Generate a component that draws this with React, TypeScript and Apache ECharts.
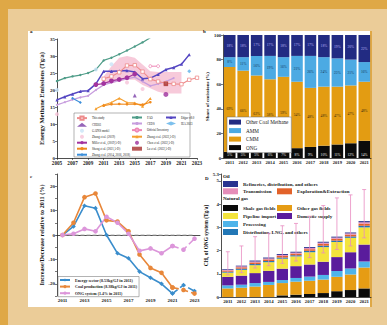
import React, { useEffect, useRef } from "react";
import * as echarts from "echarts";

const FONT = '"Liberation Serif", "DejaVu Serif", serif';

// ---------- Panel A ----------
const studyYears = [2011, 2012, 2013, 2014, 2015, 2016, 2017, 2018, 2019, 2020, 2021, 2022, 2023];
const studyValues = [23.3, 24.0, 25.2, 27.2, 27.3, 25.4, 23.2, 22.5, 22.0, 21.8, 21.7, 23.0, 23.6];
const bandYears = [2011, 2012, 2013, 2014, 2015, 2016, 2017, 2018, 2019, 2020, 2021];
const bandLow = [22.0, 22.0, 22.5, 23.0, 23.0, 21.5, 20.5, 19.5, 19.0, 19.0, 19.0];
const bandHigh = [24.0, 27.0, 29.5, 30.0, 29.5, 27.5, 25.5, 25.3, 25.3, 25.3, 25.3];
const faoYears = [2005, 2006, 2007, 2008, 2009, 2010, 2011, 2012, 2013, 2014, 2015, 2016, 2017];
const faoValues = [22.6, 23.5, 24.0, 24.4, 25.0, 26.0, 28.7, 29.5, 30.5, 31.6, 32.8, 34.0, 35.4];
const edgarYears = [2005, 2006, 2007, 2008, 2009, 2010, 2011, 2012, 2013, 2014, 2015, 2016, 2017, 2018, 2019, 2020, 2021, 2022];
const edgarValues = [17.1, 18.0, 18.8, 19.6, 19.8, 21.8, 25.5, 25.5, 25.6, 25.7, 25.3, 23.3, 23.5, 24.6, 26.0, 26.6, 27.6, 30.4];
const cedsYears = [2005, 2006, 2007, 2008, 2009, 2010, 2011, 2012, 2013, 2014, 2015, 2016, 2017, 2018, 2019, 2020];
const cedsValues = [15.6, 16.4, 17.2, 17.8, 18.3, 20.0, 21.5, 22.2, 22.8, 23.3, 23.8, 22.5, 21.2, 21.8, 22.5, 23.5];
const millerYears = [2010, 2011, 2012, 2013, 2014, 2015];
const millerValues = [21.6, 21.9, 22.7, 23.1, 23.6, 24.7];
const zhang22Years = [2010, 2011, 2012, 2013, 2014, 2015, 2016, 2017];
const zhang22Values = [14.5, 15.6, 16.3, 17.6, 16.3, 16.2, 15.2, 17.5];
const shengYears = [2011, 2012, 2013, 2014, 2015, 2016, 2017];
const shengValues = [15.4, 15.8, 15.9, 15.8, 15.9, 15.7, 16.4];
const zhang14Years = [2007, 2008];
const zhang14Values = [17.6, 16.3];
const gainsYears = [2005, 2010, 2012];
const gainsValues = [20.0, 26.0, 27.6];
const cheYears = [2015];
const cheValues = [18.4];
const zhang19Years = [2005, 2014, 2016];
const zhang19Values = [12.9, 22.2, 20.3];
const officialYears = [2017, 2018];
const officialValues = [27.0, 27.0];
const chenYears = [2019];
const chenValues = [18.7];
const luYears = [2019];
const luValues = [21.8];
const ieaYears = [2022];
const ieaValues = [25.5];

// ---------- Panel B ----------
const yearsB = ["2011", "2012", "2013", "2014", "2015", "2016", "2017", "2018", "2019", "2020", "2021"];
const ongShare = [5, 5, 5, 6, 7, 8, 9, 10, 11, 12, 14];
const cmmShare = [69, 66, 62, 58, 59, 54, 48, 48, 47, 47, 48];
const ammShare = [8, 11, 16, 19, 16, 21, 26, 24, 23, 21, 16];
const otherShare = [18, 18, 17, 17, 18, 17, 17, 18, 19, 20, 22];

// ---------- Panel C ----------
const yearsC = ["2011", "2012", "2013", "2014", "2015", "2016", "2017", "2018", "2019", "2020", "2021", "2022", "2023"];
const energyChange = [0, 3.5, 12, 11, 0, -7.5, -9.5, -15, -17.5, -20, -24, -20.5, -23];
const coalChange = [0, 5, 15.5, 17, 6, 5.5, 1.5, -8, -13.5, -15.5, -21.5, -22.5, -24];
const ongChange = [0, 0.5, 2.5, 1.5, 7.5, 5, 0.5, -6.5, -5.5, -7.5, -4.5, -6, -1.5];
const zeroRef = [0];
const lastSolidIndex = 10;

// ---------- Panel D ----------
const yearsD = ["2011", "2012", "2013", "2014", "2015", "2016", "2017", "2018", "2019", "2020", "2021"];
const shaleGas = [0, 0, 0, 0, 0.07, 0.1, 0.13, 0.17, 0.25, 0.3, 0.37];
const otherGas = [0.37, 0.4, 0.45, 0.52, 0.53, 0.56, 0.57, 0.58, 0.62, 0.67, 0.9];
const processing = [0.13, 0.13, 0.15, 0.13, 0.13, 0.16, 0.18, 0.2, 0.25, 0.26, 0.26];
const domesticSupply = [0.37, 0.39, 0.43, 0.48, 0.49, 0.51, 0.52, 0.57, 0.6, 0.7, 0.73];
const pipelineImport = [0.18, 0.25, 0.34, 0.37, 0.43, 0.42, 0.53, 0.63, 0.65, 0.62, 0.74];
const distributionLng = [0.04, 0.05, 0.05, 0.05, 0.05, 0.05, 0.06, 0.06, 0.06, 0.06, 0.07];
const exploration = [0.05, 0.06, 0.07, 0.07, 0.07, 0.07, 0.07, 0.08, 0.08, 0.08, 0.09];
const transmission = [0.03, 0.04, 0.04, 0.04, 0.04, 0.04, 0.05, 0.05, 0.05, 0.05, 0.06];
const refineries = [0.03, 0.03, 0.04, 0.04, 0.04, 0.04, 0.04, 0.04, 0.04, 0.04, 0.05];
const errLow = [0.95, 1.05, 1.25, 1.35, 1.45, 1.55, 1.7, 1.9, 2.05, 2.2, 2.55];
const errHigh = [1.95, 2.2, 2.6, 2.75, 3.07, 3.17, 3.48, 3.94, 4.27, 4.4, 4.63];

const zip = (xs: number[], ys: number[]) => xs.map((x, i) => [x, ys[i]]);

const axisLine = { lineStyle: { color: "#222", width: 0.8 } };
const axisTick = { length: 2, lineStyle: { color: "#222", width: 0.6 } };
const lbl = (fs: number) => ({ fontSize: fs, fontFamily: FONT, fontWeight: "bold" as const, color: "#222", margin: 2 });
const nameStyle = (fs: number) => ({ fontSize: fs, fontFamily: FONT, fontWeight: "bold" as const, color: "#111" });

function lineA(name: string, xs: number[], ys: number[], color: string, symbol: string, size: number, width: number, extra: any = {}) {
  return {
    name, type: "line", xAxisIndex: 0, yAxisIndex: 0, data: zip(xs, ys),
    symbol, symbolSize: size, color,
    lineStyle: { color, width }, itemStyle: { color },
    z: 3, ...extra,
  };
}
function scatterA(name: string, xs: number[], ys: number[], color: string, symbol: string, size: number) {
  return { name, type: "scatter", xAxisIndex: 0, yAxisIndex: 0, data: zip(xs, ys), symbol, symbolSize: size, color, itemStyle: { color }, z: 4 };
}

function barB(name: string, data: number[], color: string, labelColor: string, pos: string) {
  return {
    name, type: "bar", stack: "share", xAxisIndex: 1, yAxisIndex: 1, data, color,
    barCategoryGap: "14%", itemStyle: { color },
    label: { show: true, position: pos, formatter: "{c}%", fontSize: 3.6, fontFamily: FONT, color: labelColor, distance: 1 },
  };
}

function lineC(name: string, values: number[], color: string, symbol: string, dashed: boolean) {
  const data = values.map((v, i) => (dashed ? (i >= lastSolidIndex ? v : null) : i <= lastSolidIndex ? v : null));
  return {
    name, type: "line", xAxisIndex: 2, yAxisIndex: 2, data, symbol, symbolSize: 4.6, color,
    lineStyle: { color, width: 1.6, type: dashed ? "dashed" : "solid" }, itemStyle: { color },
    connectNulls: false, z: 3,
  };
}

function barD(name: string, data: number[], color: string) {
  return { name, type: "bar", stack: "ong", xAxisIndex: 3, yAxisIndex: 3, data, color, itemStyle: { color }, barCategoryGap: "17%" };
}

const legendText = (fs: number, bold = false) => ({ fontSize: fs, fontFamily: FONT, color: "#222", fontWeight: bold ? ("bold" as const) : ("normal" as const), lineHeight: fs + 1 });

const option: any = {
  animation: false,
  grid: [
    { left: 57, top: 39, width: 140, height: 119 },
    { left: 223, top: 35, width: 148, height: 123 },
    { left: 57, top: 174, width: 143, height: 122 },
    { left: 221, top: 174, width: 150, height: 123 },
  ],
  xAxis: [
    { gridIndex: 0, type: "value", min: 2005, max: 2023, interval: 2, axisLine, axisTick, splitLine: { show: false }, axisLabel: { ...lbl(5.2), formatter: (v: number) => String(v) } },
    { gridIndex: 1, type: "category", data: yearsB, axisLine, axisTick: { ...axisTick, alignWithLabel: true }, axisLabel: { ...lbl(4.6), interval: 0 } },
    { gridIndex: 2, type: "category", data: yearsC, axisLine, axisTick: { ...axisTick, alignWithLabel: true }, axisLabel: { ...lbl(5), interval: 1 } },
    { gridIndex: 3, type: "category", data: yearsD, axisLine, axisTick: { ...axisTick, alignWithLabel: true }, axisLabel: { ...lbl(4.8), interval: 0 } },
  ],
  yAxis: [
    { gridIndex: 0, type: "value", min: 0, max: 35, interval: 5, axisLine: { show: true, ...axisLine }, axisTick: { show: true, ...axisTick }, splitLine: { show: false }, axisLabel: lbl(5),
      name: "Energy Methane Emissions (Tg/a)", nameLocation: "middle", nameGap: 13, nameTextStyle: nameStyle(6.4) },
    { gridIndex: 1, type: "value", min: 0, max: 100, interval: 20, axisLine: { show: true, ...axisLine }, axisTick: { show: true, ...axisTick }, splitLine: { show: false }, axisLabel: lbl(4.6),
      name: "Share of emissions (%)", nameLocation: "middle", nameGap: 13, nameTextStyle: nameStyle(5) },
    { gridIndex: 2, type: "value", min: -25, max: 25, interval: 5, axisLine: { show: true, ...axisLine }, axisTick: { show: true, ...axisTick }, splitLine: { show: false },
      axisLabel: { ...lbl(5), formatter: (v: number) => (v % 10 === 0 ? String(v) : "") },
      name: "Increase/Decrease relative to 2011 (%)", nameLocation: "middle", nameGap: 12, nameTextStyle: nameStyle(6.2) },
    { gridIndex: 3, type: "value", min: 0, max: 5.3, interval: 1, axisLine: { show: true, ...axisLine }, axisTick: { show: true, ...axisTick }, splitLine: { show: false }, axisLabel: lbl(5),
      name: "CH\u2084 of ONG system (Tg/a)", nameLocation: "middle", nameGap: 8, nameTextStyle: nameStyle(5.4) },
  ],
  legend: [
    { orient: "vertical", left: 76, top: 115.5, padding: 0, itemWidth: 10, itemHeight: 4, itemGap: 2, textStyle: legendText(3), z: 6,
      data: ["This study", "CHE03", "GAINS model", "Zhang et al. (2019)", "Miller et al., (2019,5-D)", "Sheng et al. (2021,5-D)", "Zhang et al. (2014, 2016, 2018)"] },
    { orient: "vertical", left: 131, top: 115.5, padding: 0, itemWidth: 10, itemHeight: 4, itemGap: 2, textStyle: legendText(3), z: 6,
      data: ["FAO", "CEDS", "Official Inventory", "Zhang et al. (2022,5-D)", "Chen et al. (2022,5-D)", "Lu et al. (2022,5-D)"] },
    { orient: "vertical", left: 165, top: 115.5, padding: 0, itemWidth: 10, itemHeight: 4, itemGap: 2, textStyle: legendText(3), z: 6,
      data: ["Edgar v8.0", "IEA 2023"] },
    { orient: "vertical", left: 227, top: 117, padding: [2, 3, 2, 2], itemWidth: 12, itemHeight: 5, itemGap: 2.3, icon: "rect",
      backgroundColor: "#fff", borderColor: "#666", borderWidth: 0.5, textStyle: legendText(5.2), z: 6,
      data: ["Other Coal Methane", "AMM", "CMM", "ONG"] },
    { orient: "vertical", left: 58, top: 276.5, padding: [1, 2, 1, 1], itemWidth: 10, itemHeight: 4, itemGap: 1.6,
      backgroundColor: "#fff", borderColor: "#666", borderWidth: 0.5, textStyle: legendText(4, true), z: 6,
      data: ["Energy sector (8.53kg/GJ in 2011)", "Coal production (8.38kg/GJ in 2011)", "ONG system (1.4% in 2011)"] },
    { orient: "vertical", left: 223, top: 181, padding: 0, itemWidth: 15, itemHeight: 6, itemGap: 1.3, icon: "rect", textStyle: legendText(5, true),
      data: ["Refineries, distribution, and others", "Transmission"] },
    { orient: "vertical", left: 277, top: 188.3, padding: 0, itemWidth: 15, itemHeight: 6, itemGap: 1.3, icon: "rect", textStyle: legendText(5, true),
      data: ["Exploration&Extraction"] },
    { orient: "vertical", left: 223, top: 205, padding: 0, itemWidth: 15, itemHeight: 6, itemGap: 2, icon: "rect", textStyle: legendText(5, true),
      data: ["Shale gas fields", "Pipeline import", "Processing", "Distribution, LNG, and others"] },
    { orient: "vertical", left: 277, top: 205, padding: 0, itemWidth: 15, itemHeight: 6, itemGap: 2, icon: "rect", textStyle: legendText(5, true),
      data: ["Other gas fields", "Domestic supply"] },
  ],
  graphic: [
    { type: "rect", z: 1, shape: { x: 74, y: 113, width: 116, height: 44 }, style: { fill: "#fff", stroke: "#666", lineWidth: 0.5 } },
    { type: "text", x: 30, y: 29, style: { text: "a", font: `bold 5px ${FONT}`, fill: "#111" } },
    { type: "text", x: 203, y: 29, style: { text: "b", font: `bold 5px ${FONT}`, fill: "#111" } },
    { type: "text", x: 30, y: 174, style: { text: "c", font: `bold 5px ${FONT}`, fill: "#111" } },
    { type: "text", x: 205, y: 176, style: { text: "D", font: `bold 5px ${FONT}`, fill: "#111" } },
    { type: "text", x: 223, y: 174, style: { text: "Oil", font: `bold 5px ${FONT}`, fill: "#111" } },
    { type: "text", x: 223, y: 195.5, style: { text: "Natural gas", font: `bold 5px ${FONT}`, fill: "#111" } },
  ],
  series: [
    // Panel A: uncertainty band of this study (polygon built through the axis scales)
    {
      name: "studyBand", type: "custom", xAxisIndex: 0, yAxisIndex: 0, z: 1, silent: true,
      data: bandYears.map((y, i) => [y, bandLow[i], bandHigh[i]]),
      encode: { x: 0, y: [1, 2] },
      renderItem: (params: any, api: any) => {
        if (params.dataIndex !== 0) return null;
        const upper = bandYears.map((y, i) => api.coord([y, bandHigh[i]]));
        const lower = bandYears.map((y, i) => api.coord([y, bandLow[i]])).reverse();
        return { type: "polygon", shape: { points: upper.concat(lower) }, style: { fill: "#F4B8CD", opacity: 0.75 } };
      },
    },
    lineA("FAO", faoYears, faoValues, "#4E9C88", "circle", 2.4, 1.2),
    lineA("CEDS", cedsYears, cedsValues, "#C79DDE", "circle", 2, 1.3),
    lineA("Edgar v8.0", edgarYears, edgarValues, "#5446C2", "triangle", 3.2, 1.5),
    lineA("Miller et al., (2019,5-D)", millerYears, millerValues, "#A3349F", "circle", 4.8, 1.2),
    lineA("This study", studyYears, studyValues, "#EE8C8C", "rect", 3.4, 1.1, { itemStyle: { color: "#fff", borderColor: "#EE8C8C", borderWidth: 0.8 } }),
    lineA("Zhang et al. (2022,5-D)", zhang22Years, zhang22Values, "#F5A031", "triangle", 3, 1.1),
    lineA("Sheng et al. (2021,5-D)", shengYears, shengValues, "#F08A1E", "circle", 2.6, 1.1),
    lineA("Zhang et al. (2014, 2016, 2018)", zhang14Years, zhang14Values, "#3C8FDA", "diamond", 3, 1.1),
    lineA("Official Inventory", officialYears, officialValues, "#EE86B6", "circle", 3, 1, { itemStyle: { color: "#fff", borderColor: "#EE86B6", borderWidth: 0.8 } }),
    scatterA("CHE03", cheYears, cheValues, "#7B3EA8", "triangle", 4),
    scatterA("GAINS model", gainsYears, gainsValues, "#C9E4F7", "circle", 4),
    scatterA("Zhang et al. (2019)", zhang19Years, zhang19Values, "#F6C3D8", "circle", 4),
    scatterA("Chen et al. (2022,5-D)", chenYears, chenValues, "#9D2F9C", "circle", 5),
    scatterA("Lu et al. (2022,5-D)", luYears, luValues, "#A7302D", "rect", 4.5),
    scatterA("IEA 2023", ieaYears, ieaValues, "#5DB0E9", "diamond", 4),
    // Panel B
    barB("ONG", ongShare, "#0B0B0B", "#f2f2f2", "insideBottom"),
    barB("CMM", cmmShare, "#E39C12", "#3a2a10", "inside"),
    barB("AMM", ammShare, "#4CAAE3", "#173a5c", "inside"),
    barB("Other Coal Methane", otherShare, "#222B82", "#B9B3F2", "inside"),
    // Panel C
    { name: "zeroLine", type: "line", xAxisIndex: 2, yAxisIndex: 2, data: yearsC.map(() => zeroRef[0]), symbol: "none", lineStyle: { color: "#b0b0b0", type: "dashed", width: 1 }, silent: true, z: 2 },
    lineC("Energy sector (8.53kg/GJ in 2011)", energyChange, "#3A8DCC", "diamond", false),
    lineC("Coal production (8.38kg/GJ in 2011)", coalChange, "#E8873A", "circle", false),
    lineC("ONG system (1.4% in 2011)", ongChange, "#DC96DA", "circle", false),
    lineC("energyDashed", energyChange, "#3A8DCC", "diamond", true),
    lineC("coalDashed", coalChange, "#E8873A", "circle", true),
    lineC("ongDashed", ongChange, "#DC96DA", "circle", true),
    // Panel D
    barD("Shale gas fields", shaleGas, "#0B0B0B"),
    barD("Other gas fields", otherGas, "#E69C14"),
    barD("Processing", processing, "#4FB4EA"),
    barD("Domestic supply", domesticSupply, "#5A1C9C"),
    barD("Pipeline import", pipelineImport, "#F3E43C"),
    barD("Distribution, LNG, and others", distributionLng, "#2277B6"),
    barD("Exploration&Extraction", exploration, "#E2622A"),
    barD("Transmission", transmission, "#E58DB9"),
    barD("Refineries, distribution, and others", refineries, "#283390"),
    {
      name: "uncertainty", type: "custom", xAxisIndex: 3, yAxisIndex: 3, z: 5,
      data: yearsD.map((_, i) => [i, errLow[i], errHigh[i]]),
      encode: { x: 0, y: [1, 2] },
      renderItem: (params: any, api: any) => {
        const x = api.value(0);
        const lo = api.coord([x, api.value(1)]);
        const hi = api.coord([x, api.value(2)]);
        const w = 2;
        const style = { stroke: "#E98DC2", lineWidth: 0.8 };
        return {
          type: "group",
          children: [
            { type: "line", shape: { x1: lo[0], y1: lo[1], x2: hi[0], y2: hi[1] }, style },
            { type: "line", shape: { x1: hi[0] - w, y1: hi[1], x2: hi[0] + w, y2: hi[1] }, style },
            { type: "line", shape: { x1: lo[0] - w, y1: lo[1], x2: lo[0] + w, y2: lo[1] }, style },
          ],
        };
      },
    },
  ],
};

export default function App() {
  const ref = useRef<HTMLDivElement>(null);
  useEffect(() => {
    const chart = echarts.init(ref.current!, null, { renderer: "svg" });
    chart.setOption(option);
    return () => chart.dispose();
  }, []);
  return (
    <div style={{ position: "fixed", left: 0, top: 0, width: 387, height: 325, background: "#EBCC98", overflow: "hidden" }}>
      <div style={{ position: "absolute", left: 0, top: 0, width: 387, height: 9, background: "#DFA846" }} />
      <div style={{ position: "absolute", left: 0, top: 0, width: 8, height: 325, background: "#DFA846" }} />
      <div style={{ position: "absolute", left: 28, top: 31, width: 342, height: 276, background: "#fff" }} />
      <div style={{ position: "absolute", left: 370, top: 31, width: 1.5, height: 276, background: "#DFA846" }} />
      <div ref={ref} style={{ position: "absolute", left: 0, top: 0, width: 387, height: 325 }} />
    </div>
  );
}
